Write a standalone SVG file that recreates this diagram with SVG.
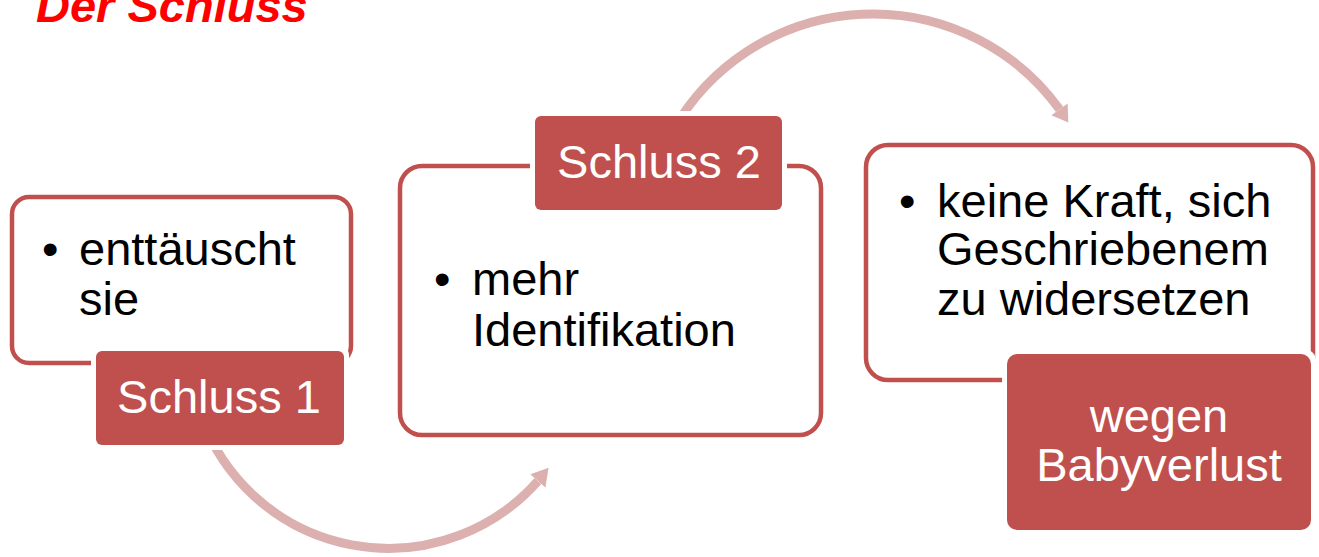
<svg xmlns="http://www.w3.org/2000/svg" width="1319" height="557" viewBox="0 0 1319 557">
<style>
.box{fill:#FFFFFF;stroke:#C0504D;stroke-width:4.5}
.halo{fill:#FFFFFF}
.lab{fill:#C0504D}
.t{font-family:"Liberation Sans",Arial,sans-serif;font-size:47px;fill:#000000}
.w{font-family:"Liberation Sans",Arial,sans-serif;font-size:47px;fill:#FFFFFF;text-anchor:middle}
.arc{fill:none;stroke:#DCB0AF;stroke-width:9}
.head{fill:#DCB0AF}
.title{font-family:"Liberation Sans",Arial,sans-serif;font-size:47px;font-weight:bold;font-style:italic;fill:#FF0000}
</style>
<rect width="1319" height="557" fill="#FFFFFF"/>
<text class="title" x="36" y="22">Der Schluss</text>
<g id="connectors">
<path class="arc" d="M201.6,417.4 A199,199 0 0 0 537.9,480.9"/>
<polygon class="head" points="530.4,474.3 548.6,467.7 545.4,487.5"/>
<path class="arc" d="M673.8,129 A230,230 0 0 1 1059.6,109.4"/>
<polygon class="head" points="1051.4,115.3 1068.3,122.5 1067.7,103.6"/>
</g>
<g id="node1">
<rect class="box" x="12" y="197" width="339" height="166" rx="17"/>
<text class="t" x="42" y="265">•</text>
<text class="t" x="79" y="265">enttäuscht</text>
<text class="t" x="79" y="315">sie</text>
<rect class="halo" x="91" y="346" width="258" height="104" rx="9"/>
<rect class="lab" x="96" y="351" width="248" height="94" rx="6"/>
<text class="w" x="219" y="413">Schluss 1</text>
</g>
<g id="node2">
<rect class="box" x="400" y="166" width="421" height="269" rx="22"/>
<text class="t" x="434" y="295">•</text>
<text class="t" x="472" y="295">mehr</text>
<text class="t" x="472" y="346">Identifikation</text>
<rect class="halo" x="530" y="111" width="257" height="104" rx="9"/>
<rect class="lab" x="535" y="116" width="247" height="94" rx="6"/>
<text class="w" x="659" y="178">Schluss 2</text>
</g>
<g id="node3">
<rect class="box" x="866" y="145" width="447" height="235" rx="22"/>
<text class="t" x="899" y="217">•</text>
<text class="t" x="937" y="217">keine Kraft, sich</text>
<text class="t" x="937" y="265">Geschriebenem</text>
<text class="t" x="937" y="315">zu widersetzen</text>
<rect class="halo" x="1002" y="349" width="314" height="186" rx="12"/>
<rect class="lab" x="1007" y="354" width="304" height="176" rx="10"/>
<text class="w" x="1159" y="432">wegen</text>
<text class="w" x="1159" y="481">Babyverlust</text>
</g>
</svg>
